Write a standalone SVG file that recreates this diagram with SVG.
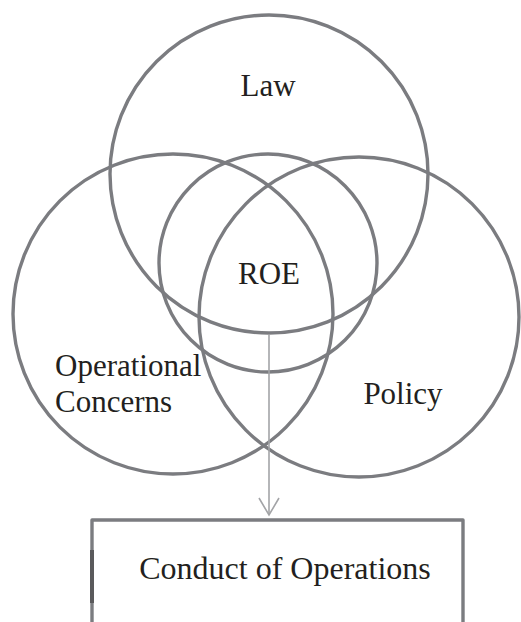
<svg xmlns="http://www.w3.org/2000/svg" width="521" height="622" viewBox="0 0 521 622">
  <style>
    .ring { fill: none; stroke: #7b7c80; stroke-width: 3.4; }
    .label { font-family: "Liberation Serif", "Times New Roman", serif; font-size: 31px; fill: #231f20; }
    .flow { fill: none; stroke: #a3a4a7; stroke-width: 1.6; }
    .frame { fill: none; stroke: #7b7c80; stroke-width: 3.4; stroke-linejoin: round; }
  </style>
  <defs>
    <!-- open V head, drawn along +x so orient="auto" follows the line -->
    <marker id="openHead" viewBox="0 0 20 22" refX="18" refY="11" markerWidth="20" markerHeight="22" markerUnits="userSpaceOnUse" orient="auto">
      <path d="M1,1 L18,11 L1,21" fill="none" stroke="#a3a4a7" stroke-width="1.6"/>
    </marker>
  </defs>
  <rect width="521" height="622" fill="#ffffff"/>

  <g id="law">
    <circle class="ring" cx="269" cy="174" r="159"/>
    <text class="label" x="268" y="96" text-anchor="middle">Law</text>
  </g>

  <g id="operational-concerns">
    <circle class="ring" cx="173" cy="314" r="160"/>
    <text class="label" x="55" y="376">Operational</text>
    <text class="label" x="55" y="412">Concerns</text>
  </g>

  <g id="policy">
    <circle class="ring" cx="359" cy="317" r="160"/>
    <text class="label" x="403" y="404" text-anchor="middle">Policy</text>
  </g>

  <g id="roe">
    <circle class="ring" cx="268" cy="263" r="109"/>
    <text class="label" x="269" y="284" text-anchor="middle">ROE</text>
  </g>

  <g id="connectors">
    <path class="flow" d="M269,335 L269,515" marker-end="url(#openHead)"/>
  </g>

  <g id="conduct-of-operations">
    <path class="frame" d="M92,622 L92,520 L463,520 L463,622"/>
    <path d="M92,550 L92,603" stroke="#5a5a5c" stroke-width="4"/>
    <text class="label" x="285" y="579" text-anchor="middle" style="font-size:32px">Conduct of Operations</text>
  </g>
</svg>
